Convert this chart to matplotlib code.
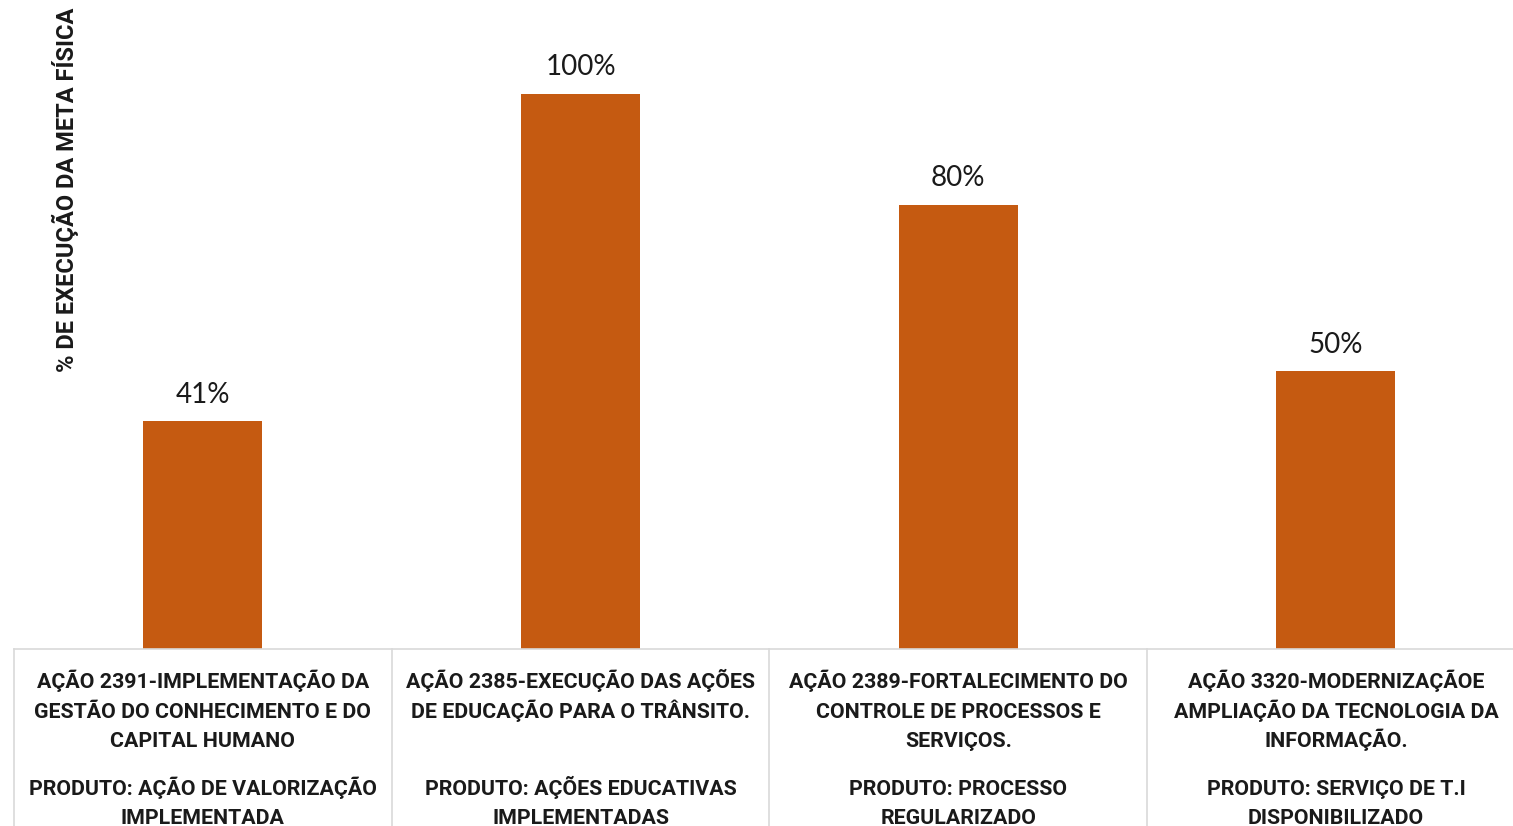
import matplotlib
matplotlib.use("Agg")
import matplotlib.pyplot as plt

acoes = [
    "AÇÃO 2391-IMPLEMENTAÇÃO DA\nGESTÃO DO CONHECIMENTO E DO\nCAPITAL HUMANO",
    "AÇÃO 2385-EXECUÇÃO DAS AÇÕES\nDE EDUCAÇÃO PARA O TRÂNSITO.",
    "AÇÃO 2389-FORTALECIMENTO DO\nCONTROLE DE PROCESSOS E\nSERVIÇOS.",
    "AÇÃO 3320-MODERNIZAÇÃOE\nAMPLIAÇÃO DA TECNOLOGIA DA\nINFORMAÇÃO.",
]
produtos = [
    "PRODUTO: AÇÃO DE VALORIZAÇÃO\nIMPLEMENTADA",
    "PRODUTO: AÇÕES EDUCATIVAS\nIMPLEMENTADAS",
    "PRODUTO: PROCESSO\nREGULARIZADO",
    "PRODUTO: SERVIÇO DE T.I\nDISPONIBILIZADO",
]
execucao = [0.41, 1.00, 0.80, 0.50]

W, H = 1513, 826
fig = plt.figure(figsize=(W / 100, H / 100), dpi=100)
# axes in pixel terms: left 14, baseline 649, top 38, category width ~377.7
ax = fig.add_axes([14 / W, 1 - 649 / H, 4 * 377.7 / W, (649 - 38) / H])

x = list(range(len(execucao)))
ax.bar(x, execucao, width=0.315, color="#C55A11", zorder=2)
ax.set_xlim(-0.5, 3.5)
ax.set_ylim(0, 1.1)
ax.axis("off")

txt = "#1a1a1a"
for xi, v in zip(x, execucao):
    ax.annotate(f"{v:.0%}", (xi, v), xytext=(0, 19), textcoords="offset points",
                ha="center", va="center", fontsize=20, family="Lato", color=txt)

# category table under the bars
tr = ax.get_xaxis_transform()
grid = "#D9D9D9"
ax.plot([-0.5, 3.5], [0, 0], transform=tr, color=grid, lw=1.2, clip_on=False)
for b in [-0.5, 0.5, 1.5, 2.5, 3.5]:
    ax.plot([b, b], [0, -0.4], transform=tr, color=grid, lw=1.2, clip_on=False)

ah = 649 - 38
bold = ["Roboto", "DejaVu Sans"]
step = 29.5  # px between lines


def put_lines(xi, block, first_baseline):
    for k, line in enumerate(block.split("\n")):
        yb = first_baseline + k * step
        ax.text(xi, -(yb - 649) / ah, line, transform=tr, ha="center",
                va="baseline", fontsize=15.4, fontweight="bold", family=bold,
                color=txt)


for xi, a, p in zip(x, acoes, produtos):
    put_lines(xi, a, 688)
    put_lines(xi, p, 795)

fig.text(65 / W, 1 - 8 / H, "% DE EXECUÇÃO DA META FÍSICA", rotation=90,
         ha="center", va="top", fontsize=17, fontweight="bold", family=bold,
         color=txt)

fig.savefig("out.png", dpi=100)
